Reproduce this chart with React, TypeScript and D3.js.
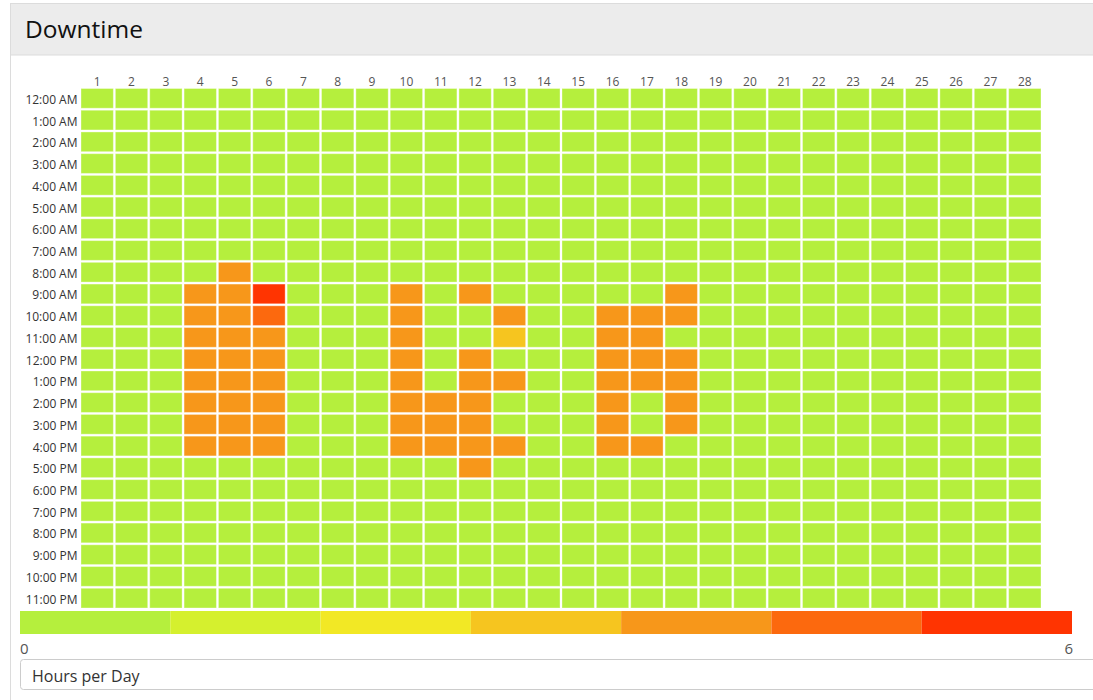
import React, { useEffect, useRef } from 'react';
import * as d3 from 'd3';

const days = d3.range(1, 29).map(String);
const hours = [
  '12:00 AM', '1:00 AM', '2:00 AM', '3:00 AM', '4:00 AM', '5:00 AM',
  '6:00 AM', '7:00 AM', '8:00 AM', '9:00 AM', '10:00 AM', '11:00 AM',
  '12:00 PM', '1:00 PM', '2:00 PM', '3:00 PM', '4:00 PM', '5:00 PM',
  '6:00 PM', '7:00 PM', '8:00 PM', '9:00 PM', '10:00 PM', '11:00 PM',
];

// [day, hour label, hours of downtime]; every other cell is 0
const downtime: [string, string, number][] = [
  ['5', '8:00 AM', 4],
  ['4', '9:00 AM', 4], ['5', '9:00 AM', 4], ['6', '9:00 AM', 6], ['10', '9:00 AM', 4], ['12', '9:00 AM', 4], ['18', '9:00 AM', 4],
  ['4', '10:00 AM', 4], ['5', '10:00 AM', 4], ['6', '10:00 AM', 5], ['10', '10:00 AM', 4], ['13', '10:00 AM', 4],
  ['16', '10:00 AM', 4], ['17', '10:00 AM', 4], ['18', '10:00 AM', 4],
  ['4', '11:00 AM', 4], ['5', '11:00 AM', 4], ['6', '11:00 AM', 4], ['10', '11:00 AM', 4], ['13', '11:00 AM', 3],
  ['16', '11:00 AM', 4], ['17', '11:00 AM', 4],
  ['4', '12:00 PM', 4], ['5', '12:00 PM', 4], ['6', '12:00 PM', 4], ['10', '12:00 PM', 4], ['12', '12:00 PM', 4],
  ['16', '12:00 PM', 4], ['17', '12:00 PM', 4], ['18', '12:00 PM', 4],
  ['4', '1:00 PM', 4], ['5', '1:00 PM', 4], ['6', '1:00 PM', 4], ['10', '1:00 PM', 4], ['12', '1:00 PM', 4], ['13', '1:00 PM', 4],
  ['16', '1:00 PM', 4], ['17', '1:00 PM', 4], ['18', '1:00 PM', 4],
  ['4', '2:00 PM', 4], ['5', '2:00 PM', 4], ['6', '2:00 PM', 4], ['10', '2:00 PM', 4], ['11', '2:00 PM', 4], ['12', '2:00 PM', 4],
  ['16', '2:00 PM', 4], ['18', '2:00 PM', 4],
  ['4', '3:00 PM', 4], ['5', '3:00 PM', 4], ['6', '3:00 PM', 4], ['10', '3:00 PM', 4], ['11', '3:00 PM', 4], ['12', '3:00 PM', 4],
  ['16', '3:00 PM', 4], ['18', '3:00 PM', 4],
  ['4', '4:00 PM', 4], ['5', '4:00 PM', 4], ['6', '4:00 PM', 4], ['10', '4:00 PM', 4], ['11', '4:00 PM', 4], ['12', '4:00 PM', 4],
  ['13', '4:00 PM', 4], ['16', '4:00 PM', 4], ['17', '4:00 PM', 4],
  ['12', '5:00 PM', 4],
];

const colorSteps = ['#b5ef3d', '#d5f02e', '#f2e825', '#f6c51f', '#f7971a', '#fc690e', '#ff3401'];
const legendDomain = [0, 6];

const W = 1093;
const H = 700;
const FONT = '"Open Sans", "Noto Sans", sans-serif';

export default function App() {
  const svgRef = useRef<SVGSVGElement>(null);

  useEffect(() => {
    const svg = d3.select(svgRef.current);
    svg.selectAll('*').remove();

    // panel + header
    svg.append('rect').attr('x', 10.5).attr('y', 3.5).attr('width', W).attr('height', H)
      .attr('fill', '#fff').attr('stroke', '#dcdcdc');
    svg.append('rect').attr('x', 10.5).attr('y', 3.5).attr('width', W).attr('height', 51.5)
      .attr('fill', '#ececec').attr('stroke', '#dcdcdc');
    svg.append('text').attr('x', 25).attr('y', 38).text('Downtime')
      .style('font-family', FONT).style('font-size', '24.5px').attr('fill', '#111');

    const x = d3.scaleBand().domain(days).range([81, 1043]);
    const y = d3.scaleBand().domain(hours).range([88.5, 610]);
    const color = d3.scaleQuantize<string>().domain(legendDomain).range(colorSteps);

    const lookup = new Map(downtime.map(d => [`${d[0]}|${d[1]}`, d[2]]));
    const cells = hours.flatMap(h => days.map(d => ({ day: d, hour: h, value: lookup.get(`${d}|${h}`) ?? 0 })));

    svg.append('g').selectAll('rect').data(cells).join('rect')
      .attr('x', d => x(d.day)!)
      .attr('y', d => y(d.hour)!)
      .attr('width', x.bandwidth() - 2)
      .attr('height', y.bandwidth() - 2)
      .attr('fill', d => color(d.value))
      .attr('stroke', 'rgba(255,255,255,0.35)')
      .attr('stroke-width', 1);

    svg.append('g').selectAll('text').data(days).join('text')
      .attr('x', d => x(d)! + (x.bandwidth() - 2) / 2)
      .attr('y', 86)
      .attr('text-anchor', 'middle')
      .style('font-family', FONT).style('font-size', '12px')
      .attr('fill', '#555')
      .text(d => d);

    svg.append('g').selectAll('text').data(hours).join('text')
      .attr('x', 77.5)
      .attr('y', d => y(d)! + (y.bandwidth() - 2) / 2 + 5.5)
      .attr('text-anchor', 'end')
      .style('font-family', FONT).style('font-size', '12px')
      .attr('fill', '#333')
      .text(d => d);

    // legend
    const lx = d3.scaleLinear().domain([0, colorSteps.length]).range([20, 1072]);
    svg.append('g').selectAll('rect').data(colorSteps).join('rect')
      .attr('x', (_, i) => lx(i))
      .attr('y', 611)
      .attr('width', (_, i) => lx(i + 1) - lx(i))
      .attr('height', 23)
      .attr('fill', d => d);

    svg.append('text').attr('x', 20).attr('y', 654).text(String(legendDomain[0]))
      .style('font-family', FONT).style('font-size', '15px').attr('fill', '#555');
    svg.append('text').attr('x', 1073).attr('y', 654).attr('text-anchor', 'end').text(String(legendDomain[1]))
      .style('font-family', FONT).style('font-size', '15px').attr('fill', '#555');

    svg.append('rect').attr('x', 20.5).attr('y', 659.5).attr('width', W).attr('height', 30)
      .attr('rx', 3).attr('fill', '#fff').attr('stroke', '#ccc');
    svg.append('text').attr('x', 32).attr('y', 682).text('Hours per Day')
      .style('font-family', FONT).style('font-size', '16px').attr('fill', '#333');
  }, []);

  return (
    <svg
      ref={svgRef}
      width={W}
      height={H}
      style={{ position: 'absolute', left: 0, top: 0, background: '#fff' }}
    />
  );
}
